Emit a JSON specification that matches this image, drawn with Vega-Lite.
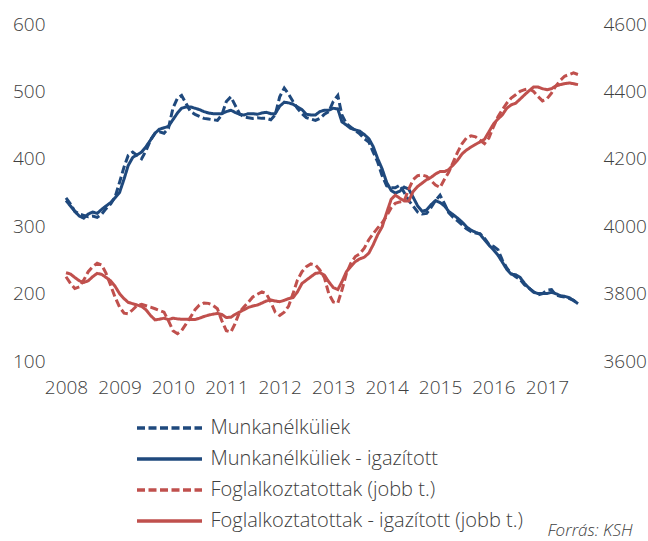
{
  "$schema": "https://vega.github.io/schema/vega-lite/v6.json",
  "width": 512,
  "height": 337,
  "autosize": "none",
  "padding": {"left": 66, "top": 24, "right": 70, "bottom": 180},
  "config": {
    "view": {"stroke": null},
    "font": "Open Sans",
    "axis": {"grid": false, "domain": false, "ticks": false, "labelFont": "Open Sans", "labelFontSize": 19, "labelFontWeight": 300, "labelColor": "#404040"},
    "legend": {"labelFont": "Open Sans", "labelFontSize": 20, "labelFontWeight": 300, "labelColor": "#404040", "labelLimit": 500}
  },
  "data": {"values": [
    {"d":"2008-01-01","u":342,"ua":338,"e":3850,"ea":3862},
    {"d":"2008-02-01","u":333,"ua":330,"e":3830,"ea":3858},
    {"d":"2008-03-01","u":322,"ua":322,"e":3815,"ea":3848},
    {"d":"2008-04-01","u":318,"ua":315,"e":3820,"ea":3838},
    {"d":"2008-05-01","u":316,"ua":312,"e":3840,"ea":3833},
    {"d":"2008-06-01","u":314,"ua":318,"e":3865,"ea":3838},
    {"d":"2008-07-01","u":315,"ua":321,"e":3880,"ea":3850},
    {"d":"2008-08-01","u":313,"ua":319,"e":3890,"ea":3860},
    {"d":"2008-09-01","u":318,"ua":325,"e":3885,"ea":3857},
    {"d":"2008-10-01","u":326,"ua":330,"e":3860,"ea":3848},
    {"d":"2008-11-01","u":333,"ua":335,"e":3825,"ea":3838},
    {"d":"2008-12-01","u":343,"ua":342,"e":3790,"ea":3822},
    {"d":"2009-01-01","u":365,"ua":350,"e":3760,"ea":3800},
    {"d":"2009-02-01","u":388,"ua":370,"e":3742,"ea":3785},
    {"d":"2009-03-01","u":405,"ua":390,"e":3740,"ea":3774},
    {"d":"2009-04-01","u":410,"ua":402,"e":3752,"ea":3770},
    {"d":"2009-05-01","u":405,"ua":406,"e":3765,"ea":3766},
    {"d":"2009-06-01","u":400,"ua":410,"e":3768,"ea":3762},
    {"d":"2009-07-01","u":412,"ua":418,"e":3764,"ea":3752},
    {"d":"2009-08-01","u":428,"ua":428,"e":3760,"ea":3735},
    {"d":"2009-09-01","u":438,"ua":438,"e":3755,"ea":3722},
    {"d":"2009-10-01","u":440,"ua":444,"e":3750,"ea":3724},
    {"d":"2009-11-01","u":438,"ua":446,"e":3745,"ea":3727},
    {"d":"2009-12-01","u":445,"ua":448,"e":3720,"ea":3723},
    {"d":"2010-01-01","u":475,"ua":458,"e":3690,"ea":3727},
    {"d":"2010-02-01","u":490,"ua":468,"e":3681,"ea":3725},
    {"d":"2010-03-01","u":494,"ua":475,"e":3690,"ea":3724},
    {"d":"2010-04-01","u":482,"ua":477,"e":3710,"ea":3724},
    {"d":"2010-05-01","u":470,"ua":477,"e":3730,"ea":3723},
    {"d":"2010-06-01","u":466,"ua":475,"e":3752,"ea":3723},
    {"d":"2010-07-01","u":463,"ua":473,"e":3766,"ea":3727},
    {"d":"2010-08-01","u":460,"ua":470,"e":3772,"ea":3732},
    {"d":"2010-09-01","u":459,"ua":468,"e":3771,"ea":3736},
    {"d":"2010-10-01","u":458,"ua":467,"e":3765,"ea":3739},
    {"d":"2010-11-01","u":457,"ua":467,"e":3755,"ea":3741},
    {"d":"2010-12-01","u":465,"ua":467,"e":3720,"ea":3738},
    {"d":"2011-01-01","u":485,"ua":470,"e":3690,"ea":3729},
    {"d":"2011-02-01","u":492,"ua":472,"e":3686,"ea":3730},
    {"d":"2011-03-01","u":480,"ua":469,"e":3710,"ea":3738},
    {"d":"2011-04-01","u":467,"ua":466,"e":3745,"ea":3745},
    {"d":"2011-05-01","u":462,"ua":465,"e":3760,"ea":3752},
    {"d":"2011-06-01","u":461,"ua":467,"e":3775,"ea":3759},
    {"d":"2011-07-01","u":460,"ua":467,"e":3790,"ea":3763},
    {"d":"2011-08-01","u":461,"ua":466,"e":3798,"ea":3766},
    {"d":"2011-09-01","u":460,"ua":468,"e":3805,"ea":3772},
    {"d":"2011-10-01","u":460,"ua":469,"e":3800,"ea":3778},
    {"d":"2011-11-01","u":458,"ua":467,"e":3775,"ea":3781},
    {"d":"2011-12-01","u":465,"ua":467,"e":3745,"ea":3778},
    {"d":"2012-01-01","u":492,"ua":478,"e":3735,"ea":3776},
    {"d":"2012-02-01","u":505,"ua":484,"e":3745,"ea":3780},
    {"d":"2012-03-01","u":496,"ua":483,"e":3762,"ea":3785},
    {"d":"2012-04-01","u":485,"ua":481,"e":3800,"ea":3788},
    {"d":"2012-05-01","u":475,"ua":477,"e":3840,"ea":3805},
    {"d":"2012-06-01","u":467,"ua":473,"e":3865,"ea":3830},
    {"d":"2012-07-01","u":461,"ua":466,"e":3880,"ea":3840},
    {"d":"2012-08-01","u":459,"ua":465,"e":3888,"ea":3850},
    {"d":"2012-09-01","u":457,"ua":465,"e":3885,"ea":3860},
    {"d":"2012-10-01","u":460,"ua":470,"e":3870,"ea":3862},
    {"d":"2012-11-01","u":466,"ua":472,"e":3848,"ea":3855},
    {"d":"2012-12-01","u":470,"ua":472,"e":3800,"ea":3835},
    {"d":"2013-01-01","u":485,"ua":475,"e":3775,"ea":3818},
    {"d":"2013-02-01","u":494,"ua":474,"e":3772,"ea":3812},
    {"d":"2013-03-01","u":465,"ua":455,"e":3810,"ea":3835},
    {"d":"2013-04-01","u":452,"ua":450,"e":3860,"ea":3865},
    {"d":"2013-05-01","u":447,"ua":445,"e":3890,"ea":3880},
    {"d":"2013-06-01","u":442,"ua":443,"e":3910,"ea":3895},
    {"d":"2013-07-01","u":437,"ua":441,"e":3918,"ea":3903},
    {"d":"2013-08-01","u":430,"ua":436,"e":3935,"ea":3908},
    {"d":"2013-09-01","u":425,"ua":430,"e":3960,"ea":3920},
    {"d":"2013-10-01","u":410,"ua":418,"e":3978,"ea":3945},
    {"d":"2013-11-01","u":395,"ua":400,"e":3995,"ea":3975},
    {"d":"2013-12-01","u":375,"ua":385,"e":4010,"ea":3998},
    {"d":"2014-01-01","u":360,"ua":365,"e":4030,"ea":4040},
    {"d":"2014-02-01","u":357,"ua":353,"e":4055,"ea":4080},
    {"d":"2014-03-01","u":357,"ua":349,"e":4068,"ea":4092},
    {"d":"2014-04-01","u":361,"ua":352,"e":4072,"ea":4083},
    {"d":"2014-05-01","u":350,"ua":358,"e":4075,"ea":4075},
    {"d":"2014-06-01","u":338,"ua":355,"e":4110,"ea":4075},
    {"d":"2014-07-01","u":330,"ua":343,"e":4138,"ea":4103},
    {"d":"2014-08-01","u":321,"ua":330,"e":4150,"ea":4118},
    {"d":"2014-09-01","u":318,"ua":322,"e":4152,"ea":4128},
    {"d":"2014-10-01","u":319,"ua":324,"e":4148,"ea":4138},
    {"d":"2014-11-01","u":328,"ua":332,"e":4135,"ea":4145},
    {"d":"2014-12-01","u":338,"ua":338,"e":4122,"ea":4155},
    {"d":"2015-01-01","u":346,"ua":335,"e":4115,"ea":4162},
    {"d":"2015-02-01","u":333,"ua":330,"e":4140,"ea":4162},
    {"d":"2015-03-01","u":320,"ua":322,"e":4160,"ea":4168},
    {"d":"2015-04-01","u":313,"ua":317,"e":4190,"ea":4182},
    {"d":"2015-05-01","u":308,"ua":312,"e":4220,"ea":4196},
    {"d":"2015-06-01","u":302,"ua":306,"e":4245,"ea":4215},
    {"d":"2015-07-01","u":296,"ua":299,"e":4262,"ea":4226},
    {"d":"2015-08-01","u":292,"ua":294,"e":4268,"ea":4235},
    {"d":"2015-09-01","u":290,"ua":291,"e":4265,"ea":4243},
    {"d":"2015-10-01","u":289,"ua":288,"e":4255,"ea":4250},
    {"d":"2015-11-01","u":282,"ua":280,"e":4245,"ea":4258},
    {"d":"2015-12-01","u":273,"ua":272,"e":4262,"ea":4280},
    {"d":"2016-01-01","u":270,"ua":265,"e":4295,"ea":4303},
    {"d":"2016-02-01","u":265,"ua":257,"e":4325,"ea":4318},
    {"d":"2016-03-01","u":250,"ua":247,"e":4345,"ea":4330},
    {"d":"2016-04-01","u":238,"ua":236,"e":4365,"ea":4350},
    {"d":"2016-05-01","u":230,"ua":229,"e":4380,"ea":4360},
    {"d":"2016-06-01","u":225,"ua":228,"e":4390,"ea":4365},
    {"d":"2016-07-01","u":221,"ua":224,"e":4400,"ea":4377},
    {"d":"2016-08-01","u":213,"ua":215,"e":4405,"ea":4390},
    {"d":"2016-09-01","u":208,"ua":208,"e":4408,"ea":4402},
    {"d":"2016-10-01","u":203,"ua":202,"e":4400,"ea":4413},
    {"d":"2016-11-01","u":198,"ua":200,"e":4385,"ea":4413},
    {"d":"2016-12-01","u":200,"ua":200,"e":4372,"ea":4408},
    {"d":"2017-01-01","u":205,"ua":200,"e":4378,"ea":4405},
    {"d":"2017-02-01","u":206,"ua":202,"e":4395,"ea":4408},
    {"d":"2017-03-01","u":198,"ua":200,"e":4415,"ea":4416},
    {"d":"2017-04-01","u":196,"ua":197,"e":4432,"ea":4420},
    {"d":"2017-05-01","u":195,"ua":196,"e":4445,"ea":4423},
    {"d":"2017-06-01","u":193,"ua":194,"e":4450,"ea":4425},
    {"d":"2017-07-01","u":190,"ua":190,"e":4455,"ea":4423},
    {"d":"2017-08-01","u":185,"ua":185,"e":4450,"ea":4420}
  ]},
  "transform": [{"fold": ["u", "ua", "e", "ea"], "as": ["key", "value"]}],
  "encoding": {
    "x": {
      "field": "d", "type": "temporal",
      "scale": {"domain": ["2008-01-01", "2017-08-01"]},
      "axis": {
        "values": ["2008-01-01","2009-01-01","2010-01-01","2011-01-01","2012-01-01","2013-01-01","2014-01-01","2015-01-01","2016-01-01","2017-01-01"],
        "format": "%Y", "labelPadding": 17, "labelFlush": false, "labelOverlap": false,
        "title": "Forrás: KSH", "titleFont": "Open Sans", "titleFontStyle": "italic", "titleFontWeight": 300,
        "titleFontSize": 17, "titleColor": "#404040", "titleAlign": "right", "titleBaseline": "middle",
        "titleX": 566, "titleY": 169
      }
    },
    "color": {
      "field": "key", "type": "nominal",
      "scale": {"domain": ["u", "ua", "e", "ea"], "range": ["#1F497D", "#1F497D", "#C0504D", "#C0504D"]},
      "legend": {
        "title": null, "orient": "none", "legendX": 93.5, "legendY": 394, "direction": "vertical",
        "symbolType": "M-5,0H5", "symbolSize": 169, "symbolStrokeWidth": 3.5, "labelOffset": 31, "rowPadding": 11,
        "labelExpr": "{'u': 'Munkanélküliek', 'ua': 'Munkanélküliek - igazított', 'e': 'Foglalkoztatottak (jobb t.)', 'ea': 'Foglalkoztatottak - igazított (jobb t.)'}[datum.label]"
      }
    },
    "strokeDash": {
      "field": "key", "type": "nominal",
      "scale": {"domain": ["u", "ua", "e", "ea"], "range": [[8, 3.5], [1, 0], [8, 3.5], [1, 0]]},
      "legend": {
        "title": null, "orient": "none", "legendX": 93.5, "legendY": 394, "direction": "vertical",
        "symbolType": "M-5,0H5", "symbolSize": 169, "symbolStrokeWidth": 3.5, "labelOffset": 31, "rowPadding": 11,
        "labelExpr": "{'u': 'Munkanélküliek', 'ua': 'Munkanélküliek - igazított', 'e': 'Foglalkoztatottak (jobb t.)', 'ea': 'Foglalkoztatottak - igazított (jobb t.)'}[datum.label]"
      }
    }
  },
  "layer": [
    {
      "transform": [{"filter": {"field": "key", "oneOf": ["u", "ua"]}}],
      "mark": {"type": "line", "strokeWidth": 3},
      "encoding": {
        "y": {"field": "value", "type": "quantitative", "scale": {"domain": [100, 600]},
          "axis": {"values": [100, 200, 300, 400, 500, 600], "title": null, "labelPadding": 21}}
      }
    },
    {
      "transform": [{"filter": {"field": "key", "oneOf": ["e", "ea"]}}],
      "mark": {"type": "line", "strokeWidth": 3},
      "encoding": {
        "y": {"field": "value", "type": "quantitative", "scale": {"domain": [3600, 4600]},
          "axis": {"orient": "right", "values": [3600, 3800, 4000, 4200, 4400, 4600], "format": "d", "title": null, "labelPadding": 25}}
      }
    }
  ],
  "resolve": {"scale": {"y": "independent"}}
}
